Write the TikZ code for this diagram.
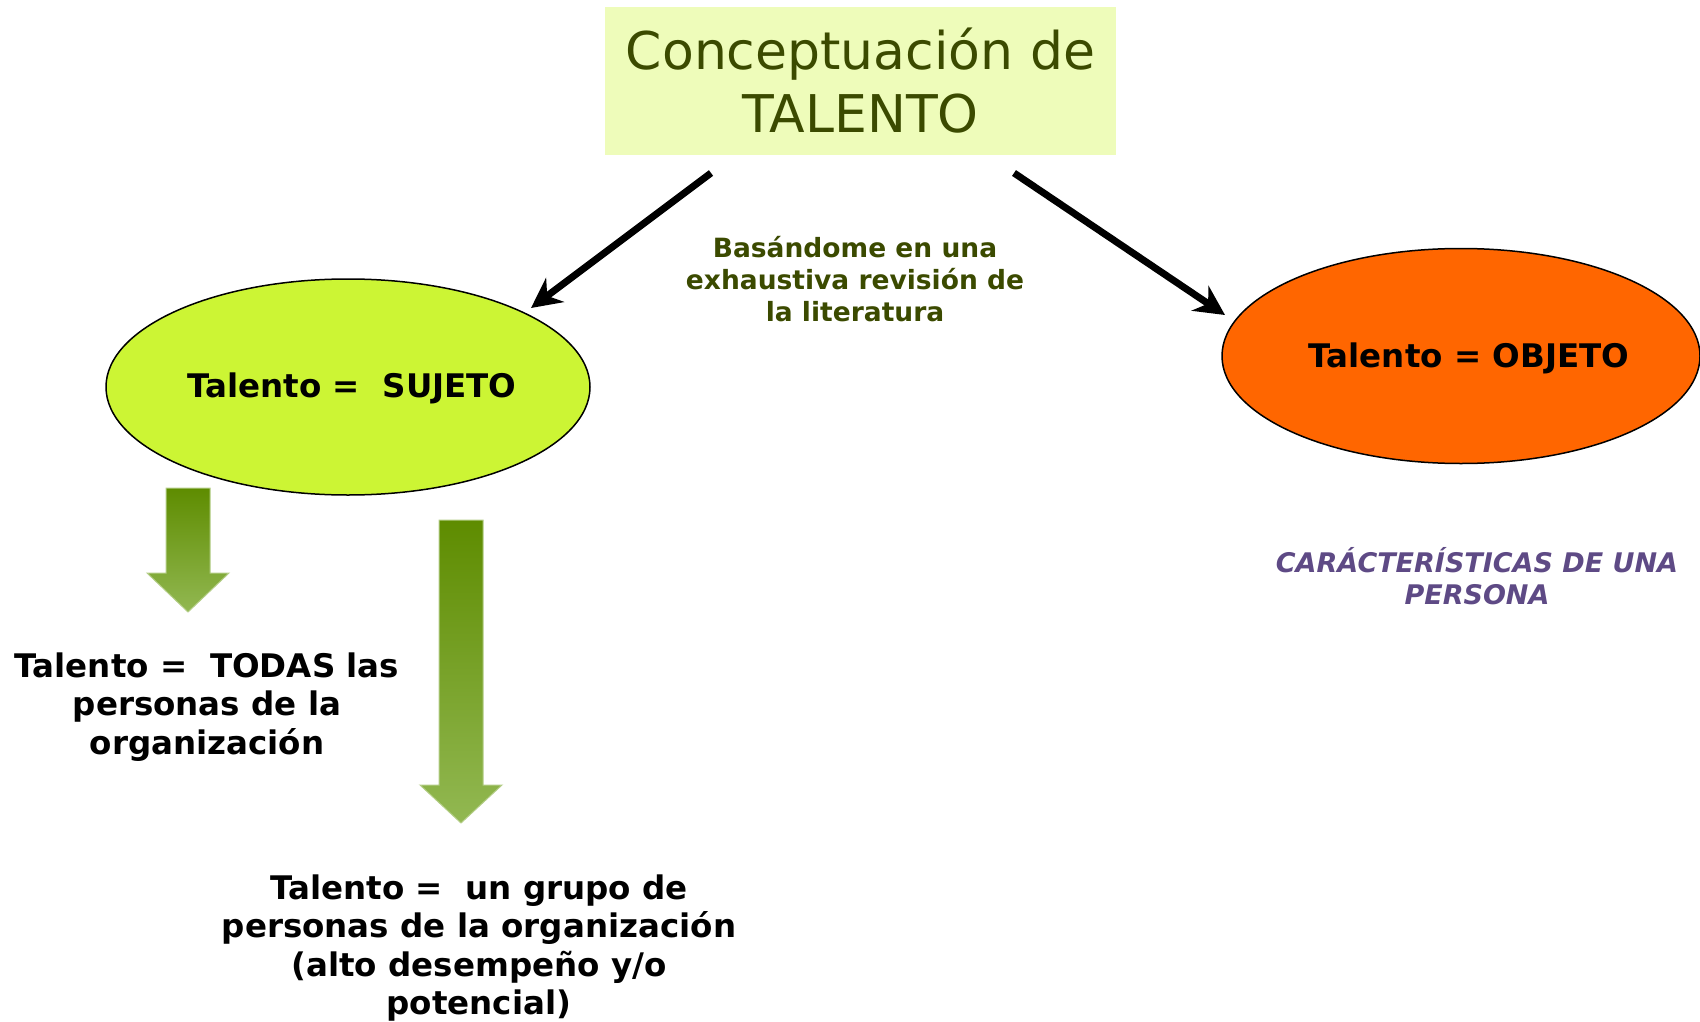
\documentclass[tikz,border=0pt]{standalone}
\usepackage{fontspec}
\setmainfont{DejaVu Sans}
\usetikzlibrary{arrows.meta,shapes.geometric}
\definecolor{titlefill}{HTML}{EEFCBA}
\definecolor{olive}{HTML}{3B4A00}
\definecolor{limefill}{HTML}{CCF534}
\definecolor{orangefill}{HTML}{FF6600}
\definecolor{purpletext}{HTML}{5E4A85}
\definecolor{greentop}{HTML}{5E8C00}
\definecolor{greenbot}{HTML}{92B852}
% green block arrow: (centre x, top y, head start y, tip y)
\def\talarrow(#1,#2,#3,#4){\shade[top color=greentop,bottom color=greenbot,draw=greenbot!70!white,line width=1pt]
  (#1-22,#2) -- (#1+22,#2) -- (#1+22,#3) -- (#1+41,#3) -- (#1,#4) -- (#1-41,#3) -- (#1-22,#3) -- cycle;}
\tikzset{
  talento/.style={ellipse,draw=black,line width=1.5pt,inner sep=0pt},
  bodytext/.style={align=center,font=\fontsize{32.5}{38.5}\selectfont\bfseries},
  link/.style={line width=7pt,-{Stealth[length=30pt,width=30pt]}}
}
\begin{document}
\begin{tikzpicture}[x=1pt,y=-1pt]
		%%%%% START %%%%%
		\useasboundingbox (0,0) rectangle (1700,1022);
		
		\node[fill=titlefill,minimum width=511pt,minimum height=148pt,align=center,
			text=olive,font=\fontsize{52}{63}\selectfont] (title) at (860.5,81) {Conceptuación de\\TALENTO};
		
		\node[talento,fill=limefill,minimum width=484pt,minimum height=216pt] (sujeto) at (348,387) {};
		\node[bodytext] (sujetotext) at (352,388) {Talento =\ \ SUJETO};
		\node[talento,fill=orangefill,minimum width=478pt,minimum height=215pt] (objeto) at (1461,356) {};
		\node[bodytext] (objetotext) at (1469,358) {Talento = OBJETO};
		
		\coordinate (fromleft) at (711,173);
		\coordinate (toleft) at (531,308);
		\coordinate (fromright) at (1014,173);
		\coordinate (toright) at (1225,315);
		\draw[link] (fromleft) -- (toleft);
		\draw[link] (fromright) -- (toright);
		
		\node[align=center,text=olive,font=\fontsize{26.5}{32}\selectfont\bfseries] (revision) at (855,279)
			{Basándome en una\\exhaustiva revisión de\\la literatura};
		
		\node[align=center,text=purpletext,font=\fontsize{27}{32}\selectfont\bfseries\itshape] (persona) at (1477,576)
			{CARÁCTERÍSTICAS DE UNA\\PERSONA};
		
		\talarrow(188,488,573,612)
		\talarrow(461,520,785,823)
		
		\node[bodytext] (todas) at (207,707) {Talento =\ \ TODAS las\\personas de la\\organización};
		\node[bodytext] (grupo) at (479,948) {Talento =\ \ un grupo de\\personas de la organización\\(alto desempeño y/o\\potencial)};
		%%%%% END %%%%%
\end{tikzpicture}
\end{document}
